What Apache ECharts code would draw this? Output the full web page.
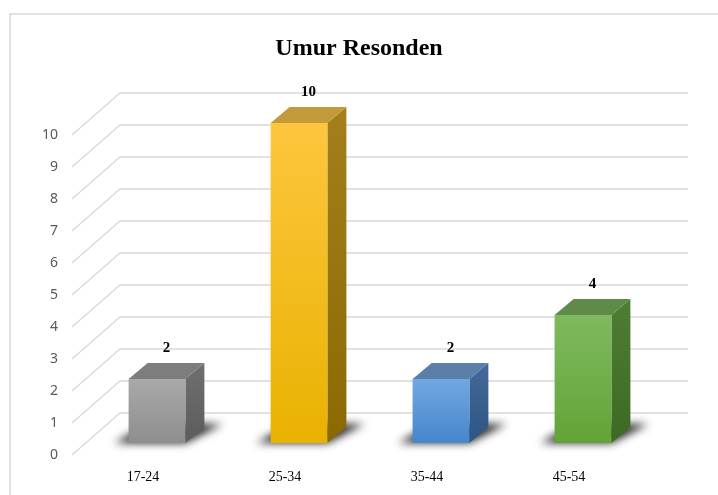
<!DOCTYPE html>
<html>
<head>
<meta charset="utf-8">
<script src="https://cdn.jsdelivr.net/npm/echarts@6/dist/echarts.min.js"></script>
<style>
  html, body { margin: 0; padding: 0; background: #fff; }
  #chart { width: 718px; height: 495px; }
</style>
</head>
<body>
<div id="chart"></div>
<script>
// data
const categories = ['17-24', '25-34', '35-44', '45-54'];
const counts = [2, 10, 2, 4];
const yTicks = [0, 1, 2, 3, 4, 5, 6, 7, 8, 9, 10];

// colours per bar: front (top, bottom), top face, side face (top, bottom)
const barColors = [
    { front: ['#a9a9a9', '#8e8e8e'], top: '#7d7d7d', side: ['#6f6f6f', '#5c5c5c'] },
    { front: ['#fdc63e', '#e9b200'], top: '#c29a3a', side: ['#a47f1c', '#8a6a00'] },
    { front: ['#70a8e2', '#4686cc'], top: '#5a7fa8', side: ['#44699a', '#2f5583'] },
    { front: ['#7fba5e', '#62a437'], top: '#5f8b48', side: ['#4e7d35', '#3c6a22'] }
];

// perspective (pixels): whole floor depth, bar front offset, bar depth
const DEPTH = [48, -42];
const BAR_FRONT = [14, -12];
const BAR_DEPTH = [19, -16];
const OFF = 2000; // shadow trick: shape drawn off-canvas, only its blur shows

const chart = echarts.init(document.getElementById('chart'));

function lg(c) {
    return new echarts.graphic.LinearGradient(0, 0, 0, 1, [
        { offset: 0, color: c[0] }, { offset: 1, color: c[1] }
    ]);
}

const option = {
    animation: false,
    backgroundColor: '#fff',
    graphic: [{
        type: 'rect',
        shape: { x: 10, y: 14, width: 730, height: 500 },
        style: { fill: 'none', stroke: '#d9d9d9', lineWidth: 1.5 },
        silent: true, z: -10
    }],
    title: {
        text: 'Umur Resonden',
        left: 'center',
        top: 37,
        padding: 0,
        textStyle: {
            fontFamily: 'Liberation Serif',
            fontWeight: 'bold',
            fontSize: 24,
            color: '#000'
        }
    },
    grid: { left: 72, right: 78, top: 135, bottom: 40 },
    xAxis: {
        type: 'category',
        data: categories,
        axisLine: { show: false },
        axisTick: { show: false },
        axisLabel: {
            margin: 15,
            fontFamily: 'Liberation Serif',
            fontSize: 14,
            color: '#000'
        }
    },
    yAxis: {
        type: 'value',
        min: 0,
        max: 10,
        interval: 1,
        axisLine: { show: false },
        axisTick: { show: false },
        splitLine: { show: false },
        axisLabel: {
            margin: 14,
            fontFamily: 'Noto Sans',
            fontSize: 14,
            color: '#595959'
        }
    },
    series: [
        {
            type: 'custom',
            silent: true,
            z: 1,
            data: yTicks,
            renderItem: function (params, api) {
                const v = api.value(0);
                const p = api.coord([0, v]);
                const band = api.size([1, 0])[0];
                const left = p[0] - band / 2;
                const right = left + band * categories.length;
                return {
                    type: 'polyline',
                    shape: {
                        points: [
                            [left, p[1]],
                            [left + DEPTH[0], p[1] + DEPTH[1]],
                            [right + DEPTH[0], p[1] + DEPTH[1]]
                        ]
                    },
                    style: { fill: null, stroke: '#d9d9d9', lineWidth: 1.3 }
                };
            }
        },
        {
            type: 'custom',
            z: 2,
            data: counts.map((v, i) => [i, v]),
            renderItem: function (params, api) {
                const i = api.value(0);
                const v = api.value(1);
                const p0 = api.coord([i, 0]);
                const p1 = api.coord([i, v]);
                const band = api.size([1, 0])[0];
                const w = band * 0.4;
                const x0 = p0[0] - w / 2 + BAR_FRONT[0];
                const x1 = x0 + w;
                const yb = p0[1] + BAR_FRONT[1];
                const yt = p1[1] + BAR_FRONT[1];
                const dx = BAR_DEPTH[0], dy = BAR_DEPTH[1];
                const c = barColors[i];
                const sh = [[x0 - 14, yb], [x1, yb], [x1 + dx + 18, yb + dy - 3], [x0 + dx, yb + dy - 3]]
                    .map(pt => [pt[0] - OFF, pt[1]]);
                return {
                    type: 'group',
                    children: [
                        {
                            type: 'polygon',
                            shape: { points: sh },
                            style: {
                                fill: '#000',
                                shadowBlur: 9,
                                shadowOffsetX: OFF,
                                shadowColor: 'rgba(0,0,0,0.85)'
                            }
                        },
                        {
                            type: 'polygon',
                            shape: { points: [[x1, yb], [x1, yt], [x1 + dx, yt + dy], [x1 + dx, yb + dy]] },
                            style: { fill: lg(c.side) }
                        },
                        {
                            type: 'polygon',
                            shape: { points: [[x0, yt], [x1, yt], [x1 + dx, yt + dy], [x0 + dx, yt + dy]] },
                            style: { fill: c.top }
                        },
                        {
                            type: 'rect',
                            shape: { x: x0, y: yt, width: w, height: yb - yt },
                            style: { fill: lg(c.front) }
                        },
                        {
                            type: 'text',
                            style: {
                                text: String(v),
                                x: x0 + w / 2 + dx / 2,
                                y: yt + dy - 15,
                                align: 'center',
                                verticalAlign: 'middle',
                                fontFamily: 'Liberation Serif',
                                fontWeight: 'bold',
                                fontSize: 15,
                                fill: '#000'
                            }
                        }
                    ]
                };
            }
        }
    ]
};

chart.setOption(option);
</script>
</body>
</html>
